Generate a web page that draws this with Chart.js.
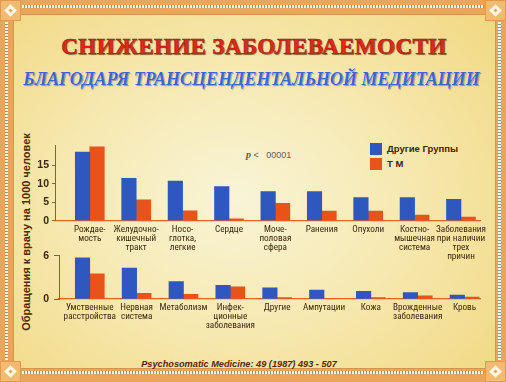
<!DOCTYPE html>
<html>
<head>
<meta charset="utf-8">
<script src="https://cdn.jsdelivr.net/npm/chart.js@4.4.1/dist/chart.umd.min.js"></script>
<style>
  html, body { margin: 0; padding: 0; }
  body { width: 506px; height: 382px; overflow: hidden; }
  #frame { position: absolute; left: 0; top: 0; width: 506px; height: 382px; background: #E9A65A; overflow: hidden; }
  #panel { position: absolute; left: 14px; top: 15px; width: 481px; height: 353px;
    background: radial-gradient(ellipse 75% 80% at 46% 52%, #F8F4D6 0%, #F6E9B2 45%, #F1D77E 100%);
    box-shadow: 0 0 0 1px #D89448; }
  .bandH { position: absolute; height: 3px; left: 22px; right: 22px;
    background: repeating-linear-gradient(to right, #F4F1E2 0 2px, #6FA39C 2px 3px); }
  .bandV { position: absolute; width: 3px; top: 22px; bottom: 22px;
    background: repeating-linear-gradient(to bottom, #F4F1E2 0 2px, #6FA39C 2px 3px); }
  .corner { position: absolute; width: 21px; height: 21px; background: #F2BB72; box-shadow: inset 0 0 0 1px #E09A50; }
  .corner::before { content: ""; position: absolute; left: 6px; top: 6px; width: 9px; height: 9px; background: #FFF6E6; transform: rotate(45deg); }
  .corner::after { content: ""; position: absolute; left: 9px; top: 9px; width: 3px; height: 3px; background: #E9A65A; transform: rotate(45deg); }
  canvas { position: absolute; left: 0; top: 0; }
  .txt { position: absolute; white-space: nowrap; }
  #title { left: 0; width: 508px; text-align: center; top: 35px; font: bold 23.3px "Liberation Serif", serif; line-height: 23px;
    color: #E2281A; -webkit-text-stroke: 0.5px #8E1608; text-shadow: 1px 1px 1px rgba(70,20,0,0.55); letter-spacing: 0.2px; }
  #subtitle { left: 0; width: 503px; text-align: center; top: 70px; font: italic bold 18px "Liberation Serif", serif; line-height: 18px;
    color: #3F63D2; text-shadow: 0 0 1px #FFFFFF, 1px 1px 1px rgba(20,30,90,0.45); }
  #ytitle { left: 26px; top: 232px; transform: translate(-50%, -50%) rotate(-90deg); font: bold 11px "Liberation Sans", sans-serif; color: #4A2A0C; }
  #footer { left: 0; width: 478px; text-align: center; top: 358px; font: italic bold 9.2px "Liberation Sans", sans-serif; line-height: 12px; color: #5A2608; }
  #pval { left: 246px; top: 149px; font: 9px "Liberation Sans", sans-serif; color: #6A6050; line-height: 10px; }
  #pval i { font: italic bold 10px "Liberation Serif", serif; }
  .lg-box { position: absolute; width: 12px; height: 12px; left: 370px; }
  .lg-txt { position: absolute; left: 387px; font: bold 9.5px "Liberation Sans", sans-serif; color: #3C2410; line-height: 12px; }
</style>
</head>
<body>
<div id="frame">
  <div id="panel"></div>
  <div class="bandH" style="top:5px"></div>
  <div class="bandH" style="top:371px"></div>
  <div class="bandV" style="left:5px"></div>
  <div class="bandV" style="left:498px"></div>
  <div class="corner" style="left:0;top:0"></div>
  <div class="corner" style="right:0;top:0"></div>
  <div class="corner" style="left:0;bottom:0"></div>
  <div class="corner" style="right:0;bottom:0"></div>
  <div class="txt" id="title">СНИЖЕНИЕ ЗАБОЛЕВАЕМОСТИ</div>
  <div class="txt" id="subtitle">БЛАГОДАРЯ ТРАНСЦЕНДЕНТАЛЬНОЙ МЕДИТАЦИИ</div>
  <div class="txt" id="ytitle">Обращения к врачу на 1000 человек</div>
  <div class="txt" id="pval"><i>p</i> &lt;&nbsp;&nbsp; 00001</div>
  <div id="legend"></div>
  <div class="txt" id="footer">Psychosomatic Medicine: 49 (1987) 493 - 507</div>
  <canvas id="c1" width="506" height="382"></canvas>
  <canvas id="c2" width="506" height="382"></canvas>
</div>
<script>
// ---- data ----
const seriesNames = ['Другие Группы', 'Т М'];
const categoriesTop = [
  ['Рождае-', 'мость'],
  ['Желудочно-', 'кишечный', 'тракт'],
  ['Носо-', 'глотка,', 'легкие'],
  ['Сердце'],
  ['Моче-', 'половая', 'сфера'],
  ['Ранения'],
  ['Опухоли'],
  ['Костно-', 'мышечная', 'система'],
  ['Заболевания', 'при наличии', 'трех', 'причин']
];
const otherTop = [18.7, 11.5, 10.8, 9.3, 7.9, 7.9, 6.3, 6.3, 5.8];
const tmTop = [20.1, 5.7, 2.7, 0.5, 4.7, 2.6, 2.6, 1.5, 1.0];
const ticksTop = [0, 5, 10, 15];

const categoriesBottom = [
  ['Умственные', 'расстройства'],
  ['Нервная', 'система'],
  ['Метаболизм'],
  ['Инфек-', 'ционные', 'заболевания'],
  ['Другие'],
  ['Ампутации'],
  ['Кожа'],
  ['Врожденные', 'заболевания'],
  ['Кровь']
];
const otherBottom = [5.7, 4.3, 2.4, 1.9, 1.55, 1.25, 1.05, 0.9, 0.55];
const tmBottom = [3.5, 0.8, 0.65, 1.7, 0.2, 0, 0.2, 0.45, 0.25];
const ticksBottom = [0, 6];

// ---- styles ----
const BLUE = '#2E58BF';
const ORANGE = '#E8531A';
const LABEL_COLOR = '#3C2810';
const NARROW = '"Roboto Condensed", "Open Sans Condensed", "DejaVu Sans Condensed", sans-serif';

const colors = [BLUE, ORANGE];
const lg = document.getElementById('legend');
seriesNames.forEach((n, i) => {
  const b = document.createElement('div');
  b.className = 'lg-box'; b.style.top = (143 + i * 14.5) + 'px'; b.style.background = colors[i];
  const t = document.createElement('div');
  t.className = 'lg-txt'; t.style.top = (143 + i * 14.5) + 'px'; t.textContent = n;
  lg.appendChild(b); lg.appendChild(t);
});

function makeChart(id, cats, a, b, ticks, opt) {
  const pts = arr => arr.map((v, i) => ({ x: i, y: v }));
  return new Chart(document.getElementById(id), {
    type: 'bar',
    data: {
      datasets: [
        { label: seriesNames[0], data: pts(a), backgroundColor: BLUE, barThickness: 14.5 },
        { label: seriesNames[1], data: pts(b), backgroundColor: ORANGE, barThickness: 14.5 }
      ]
    },
    options: {
      responsive: false,
      animation: false,
      events: [],
      layout: { padding: opt.padding },
      plugins: { legend: { display: false }, tooltip: { enabled: false } },
      scales: {
        x: {
          type: 'linear', offset: false,
          min: opt.xmin, max: opt.xmax,
          afterBuildTicks: s => { s.ticks = cats.map((_, i) => ({ value: i })); },
          afterFit: s => { s.height = opt.xh; },
          grid: { display: false, drawTicks: false, tickLength: 0 },
          border: { display: true, color: '#E8622A', width: 1.2 },
          ticks: {
            autoSkip: false, maxRotation: 0, minRotation: 0, padding: 4,
            color: LABEL_COLOR,
            font: { family: NARROW, size: 9.2, lineHeight: 0.98 },
            callback: v => cats[v]
          }
        },
        y: {
          min: 0, max: opt.ymax,
          afterBuildTicks: s => { s.ticks = ticks.map(v => ({ value: v })); },
          afterFit: s => { s.width = opt.yw; },
          grid: { display: true, drawOnChartArea: false, drawTicks: true, tickLength: opt.tl, color: '#6E6656', lineWidth: 1 },
          border: { display: true, color: '#6E6656', width: 1 },
          ticks: { padding: opt.tp, color: LABEL_COLOR, font: { family: '"Liberation Sans", sans-serif', size: 10.5, weight: 'bold' } }
        }
      }
    }
  });
}

// top chart area: left 55, top 145, bottom ~220.7, right 480
makeChart('c1', categoriesTop, otherTop, tmTop, ticksTop, {
  padding: { left: 20, top: 145, right: 26, bottom: 91.3 },
  xmin: -0.75, xmax: 8.41, xh: 70, ymax: 20.6, yw: 35, tl: 3, tp: 3
});
// bottom chart area: left 59, top 255.7, bottom 299
makeChart('c2', categoriesBottom, otherBottom, tmBottom, ticksBottom, {
  padding: { left: 20, top: 255.7, right: 26, bottom: 43 },
  xmin: -0.657, xmax: 8.33, xh: 40, ymax: 6, yw: 39, tl: 5, tp: 5
});
</script>
</body>
</html>
